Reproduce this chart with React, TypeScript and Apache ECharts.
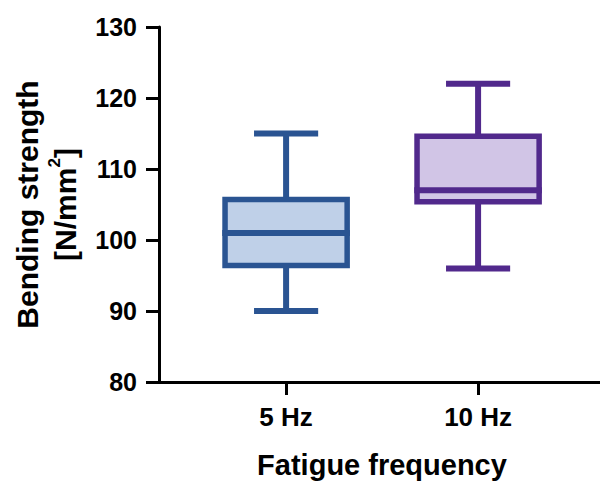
import React, { useEffect, useRef } from "react";
import * as echarts from "echarts";

const categories = ["5 Hz", "10 Hz"];
const categoryPositions = [0, 1];
const minValues = [90, 96];
const q1Values = [96.4, 105.4];
const medianValues = [101, 107];
const q3Values = [105.7, 114.6];
const maxValues = [115, 122];
const strokeColors = ["#2A5492", "#51298C"];
const fillColors = ["#BFD0E8", "#D1C5E6"];
const yMin = 80;
const yMax = 130;
const yInterval = 10;

const FONT = "'Liberation Sans', Arial, Helvetica, sans-serif";

export default function App() {
  const ref = useRef<HTMLDivElement>(null);
  useEffect(() => {
    if (!ref.current) return;
    const chart = echarts.init(ref.current, undefined, { renderer: "svg" });
    const data = categories.map((_, i) => [
      categoryPositions[i],
      minValues[i],
      q1Values[i],
      medianValues[i],
      q3Values[i],
      maxValues[i],
    ]);
    const LW = 6;
    const BOX_LW = 5.5;
    chart.setOption({
      animation: false,
      backgroundColor: "#ffffff",
      grid: { left: 159, right: 0, top: 27, bottom: 101 },
      xAxis: {
        type: "value",
        min: -0.662,
        max: 1.635,
        axisLine: { show: true, onZero: false, lineStyle: { color: "#000", width: 3 } },
        axisTick: {
          show: true,
          customValues: categoryPositions,
          length: 13,
          lineStyle: { color: "#000", width: 3 },
        },
        axisLabel: {
          customValues: categoryPositions,
          formatter: (v: number) => categories[Math.round(v)] ?? "",
          margin: 22,
          color: "#000",
          fontSize: 26,
          fontWeight: "bold",
          fontFamily: FONT,
        },
        name: "Fatigue frequency",
        nameLocation: "middle",
        nameGap: 68,
        nameTextStyle: {
          color: "#000",
          fontSize: 29,
          fontWeight: "bold",
          fontFamily: FONT,
          padding: [0, 0, 0, 5],
        },
        splitLine: { show: false },
      },
      yAxis: {
        type: "value",
        min: yMin,
        max: yMax,
        interval: yInterval,
        axisLine: { show: true, onZero: false, lineStyle: { color: "#000", width: 3 } },
        axisTick: {
          show: true,
          length: 13,
          lineStyle: { color: "#000", width: 3 },
        },
        axisLabel: {
          margin: 22,
          color: "#000",
          fontSize: 25,
          fontWeight: "bold",
          fontFamily: FONT,
        },
        splitLine: { show: false },
        name: "{a|Bending strength}\n{a|[N/mm}{s|2}{a|]}",
        nameLocation: "middle",
        nameRotate: 90,
        nameGap: 68,
        nameTextStyle: {
          color: "#000",
          fontSize: 30,
          fontWeight: "bold",
          fontFamily: FONT,
          lineHeight: 38,
          rich: {
            a: {
              color: "#000",
              fontSize: 30,
              fontWeight: "bold",
              fontFamily: FONT,
              lineHeight: 38,
            },
            s: {
              color: "#000",
              fontSize: 17,
              fontWeight: "bold",
              fontFamily: FONT,
              lineHeight: 12,
              verticalAlign: "top",
            },
          },
        },
      },
      series: [
        {
          type: "custom",
          encode: { x: 0, y: [1, 2, 3, 4, 5] },
          data,
          clip: false,
          renderItem: (params: any, api: any) => {
            const xv = api.value(0);
            const pMin = api.coord([xv, api.value(1)]);
            const pQ1 = api.coord([xv, api.value(2)]);
            const pMed = api.coord([xv, api.value(3)]);
            const pQ3 = api.coord([xv, api.value(4)]);
            const pMax = api.coord([xv, api.value(5)]);
            const band = api.size([1, 0])[0];
            const boxHalf = band * 0.318;
            const capHalf = band * 0.167;
            const cx = pMin[0];
            const stroke = strokeColors[params.dataIndex];
            const fill = fillColors[params.dataIndex];
            const ls = { stroke, lineWidth: LW, fill: "none" };
            return {
              type: "group",
              children: [
                {
                  type: "line",
                  shape: { x1: cx, y1: pMax[1], x2: cx, y2: pQ3[1] },
                  style: ls,
                },
                {
                  type: "line",
                  shape: { x1: cx, y1: pQ1[1], x2: cx, y2: pMin[1] },
                  style: ls,
                },
                {
                  type: "line",
                  shape: { x1: cx - capHalf, y1: pMax[1], x2: cx + capHalf, y2: pMax[1] },
                  style: ls,
                },
                {
                  type: "line",
                  shape: { x1: cx - capHalf, y1: pMin[1], x2: cx + capHalf, y2: pMin[1] },
                  style: ls,
                },
                {
                  type: "rect",
                  shape: {
                    x: cx - boxHalf,
                    y: pQ3[1],
                    width: boxHalf * 2,
                    height: pQ1[1] - pQ3[1],
                  },
                  style: { fill, stroke, lineWidth: BOX_LW },
                },
                {
                  type: "line",
                  shape: {
                    x1: cx - boxHalf - BOX_LW / 2,
                    y1: pMed[1],
                    x2: cx + boxHalf + BOX_LW / 2,
                    y2: pMed[1],
                  },
                  style: ls,
                },
              ],
            };
          },
        },
      ],
    });
    return () => chart.dispose();
  }, []);
  return <div ref={ref} style={{ width: 600, height: 484, position: "absolute", left: 0, top: 0 }} />;
}
